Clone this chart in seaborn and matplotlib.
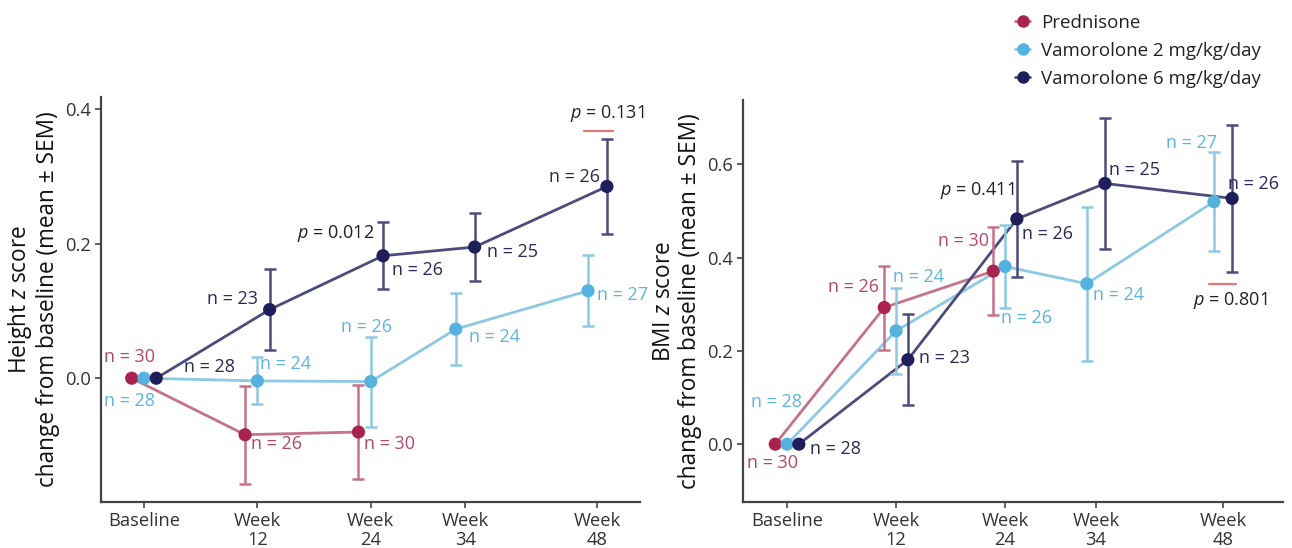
import numpy as np
import pandas as pd
import matplotlib
matplotlib.use("Agg")
import matplotlib.pyplot as plt
from matplotlib.lines import Line2D
import seaborn as sns

# ---------------- data ----------------
weeks = [0, 12, 24, 34, 48]
tick_labels = ["Baseline", "Week\n12", "Week\n24", "Week\n34", "Week\n48"]
groups = ["Prednisone", "Vamorolone 2 mg/kg/day", "Vamorolone 6 mg/kg/day"]

# Height z score change (mean, SEM); None = not measured
height_pred = [0.0, -0.084, -0.080, None, None]
height_pred_sem = [0.0, 0.073, 0.070, None, None]
height_v2 = [0.0, -0.004, -0.005, 0.073, 0.130]
height_v2_sem = [0.0, 0.035, 0.067, 0.053, 0.053]
height_v6 = [0.0, 0.102, 0.182, 0.195, 0.285]
height_v6_sem = [0.0, 0.060, 0.050, 0.051, 0.070]

# BMI z score change (mean, SEM)
bmi_pred = [0.0, 0.293, 0.371, None, None]
bmi_pred_sem = [0.0, 0.090, 0.095, None, None]
bmi_v2 = [0.0, 0.243, 0.381, 0.344, 0.520]
bmi_v2_sem = [0.0, 0.092, 0.089, 0.165, 0.106]
bmi_v6 = [0.0, 0.181, 0.483, 0.559, 0.527]
bmi_v6_sem = [0.0, 0.098, 0.124, 0.141, 0.157]

# ---------------- style ----------------
marker_colors = {"Prednisone": "#A8234F", "Vamorolone 2 mg/kg/day": "#55B2DE",
                 "Vamorolone 6 mg/kg/day": "#1E1E5A"}
line_colors = {"Prednisone": "#C4738A", "Vamorolone 2 mg/kg/day": "#8DC9E3",
               "Vamorolone 6 mg/kg/day": "#4C4C7C"}
text_colors = {"Prednisone": "#B4486A", "Vamorolone 2 mg/kg/day": "#5DB5DD",
               "Vamorolone 6 mg/kg/day": "#2A2A58", "p": "#222222"}

sns.set_theme(style="ticks")
plt.rcParams["font.family"] = ["Open Sans", "DejaVu Sans"]
plt.rcParams["mathtext.fontset"] = "custom"
plt.rcParams["mathtext.it"] = "Open Sans:italic"
plt.rcParams["mathtext.rm"] = "Open Sans"


def build_frame(series):
    rows = []
    for g, (vals, sems) in zip(groups, series):
        for w, v, s in zip(weeks, vals, sems):
            if v is not None:
                rows.append({"group": g, "week": w, "value": v, "err": s})
    df = pd.DataFrame(rows)
    # dodge groups horizontally at each time point
    pos = []
    for _, r in df.iterrows():
        present = list(df.loc[df["week"] == r["week"], "group"])
        i = present.index(r["group"])
        if len(present) == 3:
            off = [-1.3, 0.0, 1.3][i]
        else:
            off = [-1.0, 1.0][i]
        pos.append(r["week"] + off)
    df["x"] = pos
    return df


df_h = build_frame([(height_pred, height_pred_sem), (height_v2, height_v2_sem),
                    (height_v6, height_v6_sem)])
df_b = build_frame([(bmi_pred, bmi_pred_sem), (bmi_v2, bmi_v2_sem),
                    (bmi_v6, bmi_v6_sem)])

fig = plt.figure(figsize=(12.92, 5.48), dpi=100)
axL = fig.add_axes([101 / 1292, 1 - 502 / 548, (640 - 101) / 1292, (502 - 97) / 548])
axR = fig.add_axes([743 / 1292, 1 - 502 / 548, (1283 - 743) / 1292, (502 - 100) / 548])


def draw(ax, df):
    sns.lineplot(data=df, x="x", y="value", hue="group", palette=line_colors,
                 hue_order=groups, linewidth=2.0, ax=ax, legend=False,
                 estimator=None, sort=True, zorder=2)
    for g in groups:
        sub = df[df["group"] == g]
        sub = sub[sub["err"] > 0]
        ax.errorbar(sub["x"], sub["value"], yerr=sub["err"], fmt="none",
                    ecolor=line_colors[g], elinewidth=1.8, capsize=4.5,
                    capthick=1.8, zorder=3)
    sns.scatterplot(data=df, x="x", y="value", hue="group", palette=marker_colors,
                    hue_order=groups, s=90, edgecolor="none", ax=ax,
                    legend=False, zorder=4)
    ax.set_xticks(weeks)
    ax.set_xticklabels(tick_labels, fontsize=13.2, color="#333333", linespacing=1.1)
    ax.set_xlabel("")
    sns.despine(ax=ax)
    for sp in ["left", "bottom"]:
        ax.spines[sp].set_color("#444444")
        ax.spines[sp].set_linewidth(1.6)
    ax.tick_params(axis="both", length=4, width=1.2, color="#444444",
                   labelsize=13.2, labelcolor="#333333", pad=3)


draw(axL, df_h)
draw(axR, df_b)

axL.set_xlim(-4.55, 52.5)
axL.set_ylim(-0.184, 0.418)
axL.set_yticks([0.0, 0.2, 0.4])
axL.set_yticklabels(["0.0", "0.2", "0.4"])
axL.set_ylabel("Height $\\it{z}$ score\nchange from baseline (mean ± SEM)",
               fontsize=16.3, color="#111111", labelpad=4, linespacing=1.1)

axR.set_xlim(-4.85, 54.6)
axR.set_ylim(-0.124, 0.738)
axR.set_yticks([0.0, 0.2, 0.4, 0.6])
axR.set_yticklabels(["0.0", "0.2", "0.4", "0.6"])
axR.set_ylabel("BMI $\\it{z}$ score\nchange from baseline (mean ± SEM)",
               fontsize=16.3, color="#111111", labelpad=4, linespacing=1.1)

P, V2, V6, PT = groups[0], groups[1], groups[2], "p"
ann_left = [
    ("n = 30", -4.2, 0.031, "left", P), ("n = 28", -4.2, -0.034, "left", V2),
    ("n = 28", 4.2, 0.016, "left", V6), ("n = 24", 12.3, 0.021, "left", V2),
    ("n = 26", 11.3, -0.098, "left", P), ("n = 30", 23.3, -0.098, "left", P),
    ("n = 23", 12.1, 0.118, "right", V6), ("$\\it{p}$ = 0.012", 24.4, 0.215, "right", PT),
    ("n = 26", 26.3, 0.161, "left", V6), ("n = 25", 36.3, 0.187, "left", V6),
    ("n = 26", 48.3, 0.299, "right", V6), ("$\\it{p}$ = 0.131", 49.0, 0.394, "center", PT),
    ("n = 26", 23.5, 0.076, "center", V2), ("n = 24", 34.4, 0.061, "left", V2),
    ("n = 27", 48.0, 0.123, "left", V2),
]
ann_right = [
    ("n = 28", -4.0, 0.091, "left", V2), ("n = 30", -4.4, -0.041, "left", P),
    ("n = 28", 2.5, -0.011, "left", V6), ("n = 26", 10.1, 0.336, "right", P),
    ("n = 24", 11.7, 0.359, "left", V2), ("n = 23", 14.5, 0.184, "left", V6),
    ("n = 30", 22.2, 0.436, "right", P), ("$\\it{p}$ = 0.411", 25.0, 0.545, "right", PT),
    ("n = 26", 25.9, 0.451, "left", V6), ("n = 26", 23.5, 0.270, "left", V2),
    ("n = 25", 35.4, 0.588, "left", V6), ("n = 24", 33.7, 0.320, "left", V2),
    ("n = 27", 41.7, 0.645, "left", V2), ("n = 26", 48.5, 0.557, "left", V6),
    ("$\\it{p}$ = 0.801", 44.7, 0.308, "left", PT),
]
for ax, anns in [(axL, ann_left), (axR, ann_right)]:
    for txt, x, y, ha, key in anns:
        ax.text(x, y, txt, ha=ha, va="center", fontsize=13, color=text_colors[key],
                clip_on=False, zorder=5)

axL.plot([46.6, 49.6], [0.368, 0.368], color="#E07A7A", lw=1.6, clip_on=False)
axR.plot([46.5, 49.4], [0.343, 0.343], color="#E07A7A", lw=1.6, clip_on=False)

handles = [Line2D([], [], color=line_colors[g], lw=2, marker="o", markersize=8,
                  markerfacecolor=marker_colors[g], markeredgecolor=marker_colors[g])
           for g in groups]
fig.legend(handles, groups, loc="upper left", bbox_to_anchor=(1015 / 1292, 1 - 14 / 548),
           frameon=False, fontsize=13.5, handlelength=0.8, handletextpad=0.6,
           labelspacing=0.52, borderpad=0, borderaxespad=0, labelcolor="#222222")

fig.savefig("out.png", dpi=100)
